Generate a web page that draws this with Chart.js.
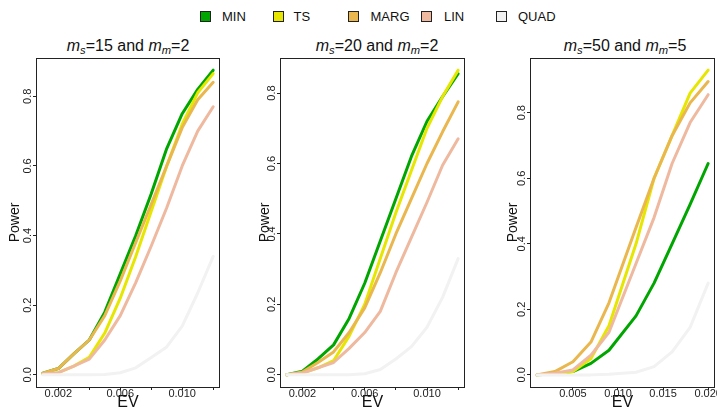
<!DOCTYPE html>
<html>
<head>
<meta charset="utf-8">
<script src="https://cdn.jsdelivr.net/npm/chart.js@4"></script>
<style>
  html, body { margin: 0; padding: 0; background: #fff; }
  #wrap { position: relative; width: 717px; height: 409px; overflow: hidden; font-family: "Liberation Sans", Arial, sans-serif; color: #111; }
  .cv { position: absolute; top: 0; width: 239px; height: 409px; }
  .cv canvas { display: block; }
  .lg-box { position: absolute; width: 9px; height: 9px; border: 1px solid #222; }
  .lg-txt { position: absolute; font-size: 13px; line-height: 13px; white-space: nowrap; }
  .ttl { position: absolute; width: 220px; text-align: center; font-size: 16px; line-height: 16px; white-space: nowrap; }
  .ttl sub { font-size: 70%; line-height: 0; vertical-align: -0.3em; }
</style>
</head>
<body>
<div id="wrap">
  <div id="legend"></div>
  <div class="ttl" id="t1"><i>m<sub>s</sub></i>=15 and <i>m<sub>m</sub></i>=2</div>
  <div class="ttl" id="t2"><i>m<sub>s</sub></i>=20 and <i>m<sub>m</sub></i>=2</div>
  <div class="ttl" id="t3"><i>m<sub>s</sub></i>=50 and <i>m<sub>m</sub></i>=5</div>
  <div class="cv" style="left:0px"><canvas id="c1" width="239" height="409"></canvas></div>
  <div class="cv" style="left:239px"><canvas id="c2" width="239" height="409"></canvas></div>
  <div class="cv" style="left:478px"><canvas id="c3" width="239" height="409"></canvas></div>
</div>
<script>
// ---------- data ----------
const seriesNames = ['MIN', 'TS', 'MARG', 'LIN', 'QUAD'];

const ev12 = [0.001, 0.002, 0.003, 0.004, 0.005, 0.006, 0.007, 0.008, 0.009, 0.010, 0.011, 0.012];
const ev20 = [0.001, 0.003, 0.005, 0.007, 0.009, 0.012, 0.014, 0.016, 0.018, 0.020];

// panel 1: ms=15, mm=2
const p1Min  = [0.005, 0.018, 0.06, 0.10, 0.18, 0.29, 0.40, 0.52, 0.65, 0.75, 0.82, 0.875];
const p1Ts   = [0.003, 0.006, 0.025, 0.05, 0.12, 0.22, 0.34, 0.47, 0.60, 0.72, 0.81, 0.865];
const p1Marg = [0.005, 0.018, 0.06, 0.10, 0.17, 0.27, 0.38, 0.49, 0.60, 0.71, 0.79, 0.84];
const p1Lin  = [0.002, 0.006, 0.025, 0.045, 0.10, 0.17, 0.265, 0.37, 0.48, 0.60, 0.70, 0.77];
const p1Quad = [0, 0, 0, 0, 0.001, 0.006, 0.02, 0.05, 0.08, 0.14, 0.235, 0.34];

// panel 2: ms=20, mm=2
const p2Min  = [0.0, 0.01, 0.045, 0.085, 0.16, 0.26, 0.38, 0.50, 0.62, 0.72, 0.79, 0.855];
const p2Ts   = [0.0, 0.005, 0.02, 0.04, 0.11, 0.20, 0.33, 0.46, 0.58, 0.70, 0.79, 0.865];
const p2Marg = [0.0, 0.008, 0.035, 0.065, 0.12, 0.19, 0.29, 0.40, 0.50, 0.60, 0.69, 0.775];
const p2Lin  = [0.0, 0.005, 0.02, 0.035, 0.075, 0.12, 0.18, 0.29, 0.39, 0.49, 0.595, 0.67];
const p2Quad = [0, 0, 0, 0, 0, 0.003, 0.015, 0.045, 0.08, 0.135, 0.22, 0.33];

// panel 3: ms=50, mm=5
const p3Min  = [0.0, 0.003, 0.01, 0.035, 0.075, 0.18, 0.28, 0.40, 0.52, 0.645];
const p3Ts   = [0.0, 0.003, 0.01, 0.05, 0.15, 0.40, 0.60, 0.73, 0.86, 0.93];
const p3Marg = [0.0, 0.01, 0.04, 0.10, 0.22, 0.45, 0.60, 0.73, 0.83, 0.895];
const p3Lin  = [0.0, 0.005, 0.015, 0.06, 0.13, 0.34, 0.48, 0.645, 0.77, 0.855];
const p3Quad = [0, 0, 0, 0, 0.002, 0.008, 0.025, 0.07, 0.145, 0.28];

// ticks
const yTickVals   = [0, 0.2, 0.4, 0.6, 0.8];
const xTicks12    = [0.002, 0.004, 0.006, 0.008, 0.010, 0.012];
const xLabels12   = ['0.002', '0.006', '0.010'];
const xTicks20    = [0.005, 0.010, 0.015, 0.020];
const xLabels20   = ['0.005', '0.010', '0.015', '0.020'];

// ---------- styles / layout ----------
const colors = { MIN: '#00A600', TS: '#E6E600', MARG: '#EAB64E', LIN: '#EEB99F', QUAD: '#F2F2F2' };
const FONT = '"Liberation Sans", Arial, sans-serif';
Chart.defaults.font.family = FONT;

// legend (html)
const legendPos = [[205, 222], [277.5, 293.5], [353, 370.5], [426, 444], [501, 518]];
const lg = document.getElementById('legend');
seriesNames.forEach((name, i) => {
  const b = document.createElement('div');
  b.className = 'lg-box';
  b.style.left = (legendPos[i][0] - 5) + 'px';
  b.style.top = '11px';
  b.style.background = colors[name];
  lg.appendChild(b);
  const t = document.createElement('div');
  t.className = 'lg-txt';
  t.style.left = legendPos[i][1] + 'px';
  t.style.top = '10px';
  t.textContent = name;
  lg.appendChild(t);
});

// titles
[['t1', 128], ['t2', 377], ['t3', 625]].forEach(([id, cx]) => {
  const el = document.getElementById(id);
  el.style.left = (cx - 110) + 'px';
  el.style.top = '38px';
});

// box round the plot + rotated y tick labels (R style)
const frameAndYLabels = {
  id: 'frameAndYLabels',
  afterDraw(chart) {
    const { ctx, chartArea: a, scales: { y } } = chart;
    ctx.save();
    ctx.strokeStyle = '#222';
    ctx.lineWidth = 1;
    ctx.strokeRect(a.left + 0.5, a.top + 0.5, a.right - a.left - 1, a.bottom - a.top);
    ctx.fillStyle = '#222';
    ctx.font = '11px ' + FONT;
    ctx.textAlign = 'center';
    ctx.textBaseline = 'middle';
    y.ticks.forEach(t => {
      const py = y.getPixelForValue(t.value);
      ctx.save();
      ctx.translate(a.left - 8, py);
      ctx.rotate(-Math.PI / 2);
      ctx.fillText(t.value.toFixed(1), 0, 0);
      ctx.restore();
    });
    ctx.restore();
  }
};

function makePanel(id, ev, rows, xRange, yRange, xTicks, xLabels, frame) {
  const datasets = seriesNames.map((name, k) => ({
    label: name,
    data: ev.map((x, i) => ({ x, y: rows[k][i] })),
    borderColor: colors[name],
    backgroundColor: colors[name],
    borderWidth: 3,
    pointRadius: 0,
    tension: 0,
    fill: false,
    borderCapStyle: 'round',
    borderJoinStyle: 'round',
    order: 5 - k
  }));
  const tickGrid = { display: true, drawOnChartArea: false, drawTicks: true, tickLength: 3, color: '#222', lineWidth: 1 };
  return new Chart(document.getElementById(id), {
    type: 'line',
    data: { datasets },
    options: {
      responsive: false,
      animation: false,
      events: [],
      layout: { padding: { top: 58, right: frame.right, bottom: 0, left: 0 } },
      plugins: { legend: { display: false }, tooltip: { enabled: false } },
      scales: {
        x: {
          type: 'linear',
          min: xRange[0], max: xRange[1],
          afterBuildTicks: s => { s.ticks = xTicks.map(v => ({ value: v })); },
          afterFit: s => { s.height = 22; s.paddingLeft = 0; s.paddingRight = 0; },
          ticks: {
            autoSkip: false, maxRotation: 0, minRotation: 0, padding: -3,
            color: '#222', font: { size: 11 },
            callback: v => xLabels.includes(v.toFixed(3)) ? v.toFixed(3) : ''
          },
          grid: tickGrid,
          border: { display: false },
          title: { display: true, text: 'EV', color: '#111', font: { size: 16, lineHeight: 1 }, padding: { top: 0, bottom: -1.5 } }
        },
        y: {
          type: 'linear',
          min: yRange[0], max: yRange[1],
          afterBuildTicks: s => { s.ticks = yTickVals.map(v => ({ value: v })); },
          afterFit: s => { s.width = frame.left; s.paddingTop = 0; s.paddingBottom = 0; },
          ticks: { display: false },
          grid: tickGrid,
          border: { display: false },
          title: { display: true, text: 'Power', color: '#111', font: { size: 14, lineHeight: 1 }, padding: { top: frame.powerX - 7, bottom: 0 } }
        }
      }
    },
    plugins: [frameAndYLabels]
  });
}

makePanel('c1', ev12, [p1Min, p1Ts, p1Marg, p1Lin, p1Quad], [0.00056, 0.01244], [-0.035, 0.91],
  xTicks12, xLabels12, { left: 36, right: 19, powerX: 15 });
makePanel('c2', ev12, [p2Min, p2Ts, p2Marg, p2Lin, p2Quad], [0.00056, 0.01244], [-0.0346, 0.8996],
  xTicks12, xLabels12, { left: 41, right: 13, powerX: 26 });
makePanel('c3', ev20, [p3Min, p3Ts, p3Marg, p3Lin, p3Quad], [0.00024, 0.02076], [-0.037, 0.967],
  xTicks20, xLabels20, { left: 52, right: 2, powerX: 35 });
</script>
</body>
</html>
